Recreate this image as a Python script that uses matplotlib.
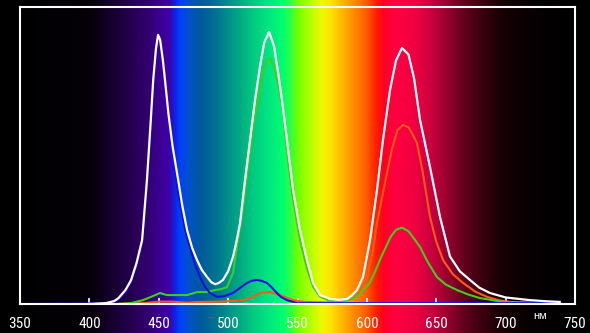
import numpy as np
import matplotlib
matplotlib.use("Agg")
import matplotlib.pyplot as plt
from matplotlib.colors import LinearSegmentedColormap
from matplotlib import font_manager

# длины волн (нм) и относительная интенсивность
wl_white = [400, 412, 418, 421, 426, 430, 434, 438, 441.5, 444, 446, 448, 449.5, 451, 453,
            454.5, 457, 460, 464, 467, 470.4, 474, 477.6, 481, 484.8, 488, 490.5, 493, 496.3,
            500, 503.5, 506, 508.6, 512.2, 516, 519.4, 523, 526, 529.5, 533, 536, 538.8,
            542.4, 546.8, 551.8, 556.8, 561.2, 566.2, 573.4, 580, 585.7, 589, 592.9, 597.2,
            602.3, 607.3, 611.6, 616.7, 621, 625.3, 630, 634, 638.3, 645.5, 652.7, 659.9,
            667, 674.3, 681, 688.7, 700, 717.6, 730, 739]
val_white = [0.0, 0.003, 0.01, 0.02, 0.047, 0.08, 0.138, 0.215, 0.418, 0.6, 0.754, 0.86, 0.906,
             0.89, 0.82, 0.754, 0.64, 0.53, 0.418, 0.33, 0.249, 0.19, 0.148, 0.115, 0.091,
             0.073, 0.067, 0.07, 0.081, 0.11, 0.158, 0.21, 0.273, 0.418, 0.56, 0.687, 0.8,
             0.88, 0.916, 0.87, 0.78, 0.687, 0.552, 0.384, 0.249, 0.148, 0.071, 0.03, 0.017,
             0.014, 0.017, 0.028, 0.047, 0.091, 0.215, 0.384, 0.552, 0.721, 0.82, 0.862,
             0.84, 0.76, 0.62, 0.461, 0.293, 0.16, 0.11, 0.081, 0.055, 0.037, 0.022, 0.013,
             0.009, 0.007]

wl_blue = [350, 410, 415, 420, 426, 430, 434, 438, 441.5, 444, 446, 448, 449.5, 451, 453, 455,
           458, 461, 464, 466.8, 469.5, 472.5, 476, 479.7, 483, 486.9, 492, 497, 503.5, 508,
           513.6, 517, 520.8, 524, 528, 531, 535.2, 538, 542.4, 549.6, 560, 740]
val_blue = [0.0, 0.002, 0.005, 0.012, 0.04, 0.075, 0.13, 0.205, 0.405, 0.585, 0.735, 0.845,
            0.89, 0.875, 0.8, 0.72, 0.58, 0.47, 0.37, 0.306, 0.24, 0.192, 0.135, 0.091, 0.06,
            0.037, 0.024, 0.026, 0.037, 0.052, 0.071, 0.078, 0.081, 0.078, 0.071, 0.058,
            0.037, 0.024, 0.013, 0.003, 0.003, 0.003]

wl_green = [420, 430, 438.6, 445, 450.9, 455.9, 463, 470.4, 477.6, 484.8, 490.5, 495, 499.2,
            503.5, 507.1, 510, 514, 518, 521.5, 525, 528, 530.2, 533, 536, 539.5, 542.4,
            546.8, 551.8, 556.8, 561.2, 566.2, 573.4, 580, 585.7, 590, 595, 602, 606, 610,
            617, 621, 625.3, 630, 634, 638.3, 644, 650.5, 657, 665, 673, 681.5, 698, 720]
val_green = [0.0, 0.003, 0.013, 0.025, 0.037, 0.03, 0.03, 0.03, 0.04, 0.04, 0.047, 0.05, 0.057,
             0.104, 0.215, 0.3, 0.45, 0.6, 0.687, 0.78, 0.82, 0.828, 0.8, 0.74, 0.65, 0.51,
             0.35, 0.215, 0.12, 0.058, 0.025, 0.01, 0.008, 0.013, 0.02, 0.035, 0.07, 0.11,
             0.155, 0.225, 0.25, 0.257, 0.245, 0.22, 0.192, 0.14, 0.091, 0.065, 0.047,
             0.032, 0.02, 0.007, 0.003]

wl_red = [420, 440, 450, 460, 470, 480, 495, 510.7, 517, 523, 530.2, 537.4, 546.8, 555, 570,
          585, 590, 595, 600, 604, 607.3, 611, 614.5, 618, 622, 626, 630, 633, 636.1, 640,
          645.5, 650, 654.9, 662, 669.3, 678, 686.6, 695, 703, 720]
val_red = [0.0, 0.003, 0.008, 0.008, 0.004, 0.007, 0.008, 0.013, 0.022, 0.037, 0.04, 0.03,
           0.013, 0.007, 0.005, 0.012, 0.02, 0.045, 0.09, 0.17, 0.273, 0.36, 0.441, 0.52,
           0.585, 0.603, 0.595, 0.57, 0.542, 0.45, 0.293, 0.21, 0.148, 0.1, 0.071, 0.042,
           0.024, 0.013, 0.007, 0.004]

ticks = [350, 400, 450, 500, 550, 600, 650, 700, 750]

# цвета спектра для фона
spec_stops = [(350, '#000000'), (400, '#050008'), (410, '#100020'), (420, '#1a0038'),
              (430, '#250050'), (440, '#30006a'), (450, '#3a0090'), (457, '#4000a8'),
              (461, '#1020e0'), (465, '#0040ff'), (470, '#0050d0'), (480, '#005a9a'),
              (490, '#007090'), (500, '#00908a'), (510, '#00b080'), (520, '#00d080'),
              (530, '#00e880'), (540, '#00ff70'), (545, '#30ff40'), (550, '#70ff00'),
              (560, '#b8ff00'), (568, '#f0f800'), (575, '#ffe000'), (582, '#ffb800'),
              (590, '#ff9000'), (600, '#ff5a00'), (607, '#ff2000'), (612, '#ff0020'),
              (620, '#ff0040'), (635, '#f00040'), (645, '#d00040'), (655, '#a80034'),
              (665, '#7a0026'), (675, '#520018'), (690, '#280009'), (700, '#150005'),
              (720, '#060002'), (750, '#000000')]

# узкий шрифт для подписей, если найдётся
installed = {f.name for f in font_manager.fontManager.ttflist}
narrow = [n for n in ['Liberation Sans Narrow', 'Roboto Condensed', 'Open Sans Condensed',
                      'DejaVu Sans Condensed'] if n in installed]
tick_family = narrow[:1] + ['Liberation Sans', 'DejaVu Sans']
tick_size = 11 if narrow else 10

W, H = 590, 333
x0, x1 = 20, 575   # пиксели для 350 и 750 нм
y_top, y_bot = 7, 304

fig = plt.figure(figsize=(W / 100, H / 100), dpi=100, facecolor='black')

# фон-спектр на всю высоту картинки
px = 400 / (x1 - x0)
bg = fig.add_axes([0, 0, 1, 1])
bg.set_facecolor('black')
cmap = LinearSegmentedColormap.from_list(
    'spec', [((w - 350) / 400, c) for w, c in spec_stops])
grad = np.linspace(0, 1, 800).reshape(1, -1)
bg.imshow(grad, cmap=cmap, aspect='auto', extent=[350, 750, 0, 1], interpolation='bilinear')
bg.set_xlim(350 - x0 * px, 750 + (W - x1) * px)
bg.set_ylim(0, 1)
bg.axis('off')

ax = fig.add_axes([x0 / W, (H - y_bot) / H, (x1 - x0) / W, (y_bot - y_top) / H])
ax.patch.set_alpha(0)

ax.plot(wl_red, val_red, color='#ff5a14', lw=1.5)
ax.plot(wl_green, val_green, color='#3ccf1e', lw=1.5)
ax.plot(wl_blue, val_blue, color='#1010e6', lw=1.5)
ax.plot(wl_white, val_white, color='white', lw=1.6)

ax.set_xlim(350, 750)
ax.set_ylim(0, 1)
ax.set_xticks(ticks)
ax.set_xticklabels([str(t) for t in ticks], color='white',
                   fontfamily=tick_family, fontsize=tick_size)
ax.set_yticks([])
ax.tick_params(axis='x', direction='in', length=4, width=1.2, color='white', pad=9)
for s in ax.spines.values():
    s.set_color('white')
    s.set_linewidth(1.5)

fig.text(540 / W, (H - 316) / H, 'нм', color='white', fontsize=8,
         ha='center', va='center', family=['Liberation Sans', 'DejaVu Sans'])

fig.savefig('out.png', dpi=100, facecolor='black')
